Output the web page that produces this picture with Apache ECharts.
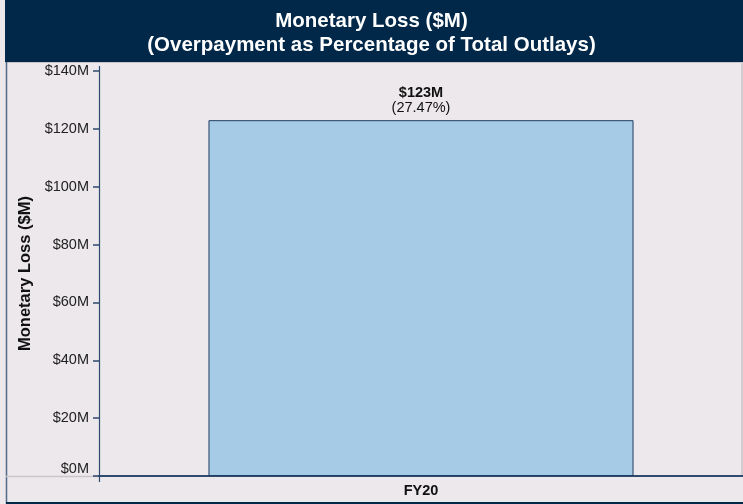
<!DOCTYPE html>
<html><head><meta charset="utf-8">
<script src="https://cdn.jsdelivr.net/npm/echarts@6/dist/echarts.min.js"></script>
<style>html,body{margin:0;padding:0;background:#ece8eb;}#c{width:743px;height:504px;}</style>
</head><body><div id="c"></div>
<script>
const categories = ['FY20'];
const lossValues = [123];
const lossLabels = ['$123M'];
const pctLabels = ['(27.47%)'];
const yTicks = [0, 20, 40, 60, 80, 100, 120, 140];
const titleLines = ['Monetary Loss ($M)', '(Overpayment as Percentage of Total Outlays)'];
const yAxisTitle = 'Monetary Loss ($M)';

const chart = echarts.init(document.getElementById('c'));
const navy = '#012749';
const ff = 'Liberation Sans, Arial, sans-serif';
chart.setOption({
  backgroundColor: '#ece8eb',
  animation: false,
  textStyle: {fontFamily: ff},
  title: {
    text: titleLines.join('\n'),
    left: 'center', top: 4,
    textStyle: {color: '#ffffff', fontSize: 20.5, fontWeight: 'bold', lineHeight: 24, fontFamily: ff},
    z: 10
  },
  graphic: [
    {type: 'rect', shape: {x: 5, y: 0, width: 738, height: 62}, style: {fill: navy}, z: 1, silent: true},
    {type: 'line', shape: {x1: 5, y1: 62.5, x2: 743, y2: 62.5}, style: {stroke: '#c9c6c9', lineWidth: 1}, silent: true},
    {type: 'line', shape: {x1: 6.5, y1: 62, x2: 6.5, y2: 504}, style: {stroke: '#4f6a8a', lineWidth: 1.5}, silent: true},
    {type: 'line', shape: {x1: 6, y1: 503, x2: 743, y2: 503}, style: {stroke: navy, lineWidth: 2}, silent: true},
    {type: 'line', shape: {x1: 6, y1: 476.5, x2: 99, y2: 476.5}, style: {stroke: '#c9c6c9', lineWidth: 1.5}, silent: true},
    {type: 'line', shape: {x1: 99.5, y1: 66, x2: 99.5, y2: 482}, style: {stroke: '#2e4a6e', lineWidth: 1.2}, silent: true},
    {type: 'line', shape: {x1: 742, y1: 63, x2: 742, y2: 476}, style: {stroke: '#c9c6c9', lineWidth: 1.5}, silent: true}
  ],
  grid: {left: 99, right: 0, top: 71, bottom: 28, containLabel: false},
  xAxis: {
    type: 'category', data: categories,
    axisLine: {lineStyle: {color: '#2e4a6e', width: 2}},
    axisTick: {show: false},
    axisLabel: {color: '#111', fontWeight: 'bold', fontSize: 14.5, margin: 7}
  },
  yAxis: {
    type: 'value', min: 0, max: 140, interval: 20,
    name: yAxisTitle, nameLocation: 'middle', nameGap: 64, nameRotate: 90,
    nameTextStyle: {color: '#111', fontWeight: 'bold', fontSize: 16.5},
    axisLine: {show: false},
    axisTick: {show: true, length: 6, lineStyle: {color: '#2e4a6e', width: 1.5}},
    splitLine: {show: false},
    axisLabel: {
      color: '#222', fontSize: 14.5, margin: 10,
      verticalAlignMinLabel: 'bottom',
      formatter: v => yTicks.includes(v) ? '$' + v + 'M' : ''
    }
  },
  series: [{
    type: 'bar', data: lossValues, barWidth: '66%',
    itemStyle: {color: '#a6cbe7', borderColor: '#1f3d63', borderWidth: 1},
    label: {
      show: true, position: 'top', distance: 5,
      formatter: p => '{b|' + lossLabels[p.dataIndex] + '}\n{n|' + pctLabels[p.dataIndex] + '}',
      rich: {
        b: {fontWeight: 'bold', fontSize: 14.5, color: '#111', lineHeight: 15},
        n: {fontSize: 14.5, color: '#111', lineHeight: 15}
      }
    }
  }]
});
</script></body></html>
